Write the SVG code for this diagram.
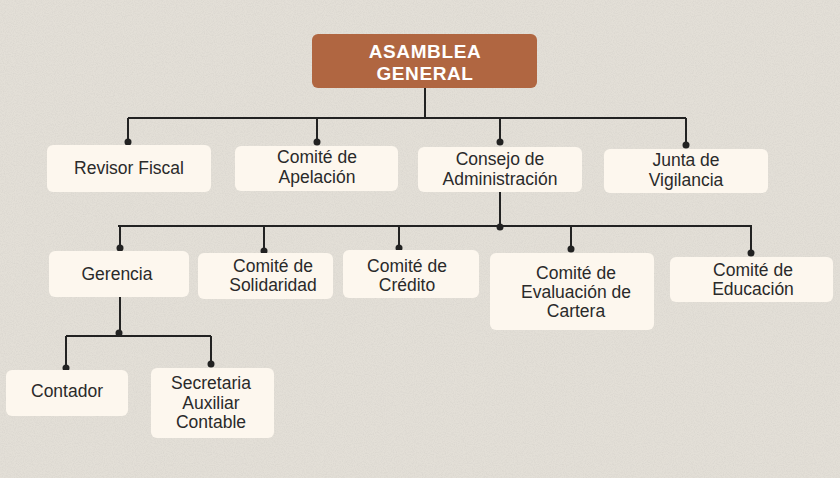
<svg xmlns="http://www.w3.org/2000/svg" width="840" height="478" viewBox="0 0 840 478">
<defs>
<filter id="grain" x="0" y="0" width="100%" height="100%">
<feTurbulence type="fractalNoise" baseFrequency="0.9" numOctaves="2" seed="3" result="n"/>
<feColorMatrix type="matrix" values="0 0 0 0 0.55  0 0 0 0 0.53  0 0 0 0 0.5  0 0 0 1.2 -0.45" in="n"/>
</filter>
</defs>
<style>
.box{fill:#fdf7ee;}
.t{font-family:"Liberation Sans",Arial,sans-serif;font-size:17.5px;fill:#2a2a2a;text-anchor:middle;}
.title{font-family:"Liberation Sans",Arial,sans-serif;font-size:19px;font-weight:bold;fill:#ffffff;text-anchor:middle;letter-spacing:0.6px;}
.ln{stroke:#222222;stroke-width:2;fill:none;}
.dot{fill:#222222;}
</style>
<rect width="840" height="478" fill="#e3dfd7"/>
<rect width="840" height="478" filter="url(#grain)" opacity="0.45"/>

<g id="connectors">
<path class="ln" d="M425 88 V118 M128 118 H686 M128 118 V142 M317 118 V142 M500 118 V142 M686 118 V145"/>
<path class="ln" d="M500 192 V226 M118 226 H752 M120 226 V248 M264 226 V251 M399 226 V248 M571 226 V249 M751 226 V253"/>
<path class="ln" d="M120 297 V336 M66 336 H211 M66 336 V368 M211 336 V364"/>
<circle class="dot" cx="128" cy="142" r="3.5"/>
<circle class="dot" cx="317" cy="142" r="3.5"/>
<circle class="dot" cx="500" cy="142" r="3.5"/>
<circle class="dot" cx="686" cy="145" r="3.5"/>
<circle class="dot" cx="500" cy="227" r="3.5"/>
<circle class="dot" cx="120" cy="248" r="3.5"/>
<circle class="dot" cx="264" cy="251" r="3.5"/>
<circle class="dot" cx="399" cy="248" r="3.5"/>
<circle class="dot" cx="571" cy="249" r="3.5"/>
<circle class="dot" cx="751" cy="253" r="3.5"/>
<circle class="dot" cx="119" cy="333" r="3.5"/>
<circle class="dot" cx="66" cy="368" r="3.5"/>
<circle class="dot" cx="211" cy="364" r="3.5"/>
</g>

<g id="asamblea">
<rect x="312" y="34" width="225" height="54" rx="6" fill="#b06641"/>
<text class="title" x="425" y="58">ASAMBLEA</text>
<text class="title" x="425" y="80">GENERAL</text>
</g>

<g id="revisor">
<rect class="box" x="47" y="145" width="164" height="47" rx="6"/>
<text class="t" x="129" y="174">Revisor Fiscal</text>
</g>

<g id="apelacion">
<rect class="box" x="235" y="146" width="163" height="45" rx="6"/>
<text class="t" x="317" y="163">Comité de</text>
<text class="t" x="317" y="183">Apelación</text>
</g>

<g id="consejo">
<rect class="box" x="418" y="147" width="164" height="45" rx="6"/>
<text class="t" x="500" y="165">Consejo de</text>
<text class="t" x="500" y="185">Administración</text>
</g>

<g id="junta">
<rect class="box" x="604" y="149" width="164" height="44" rx="6"/>
<text class="t" x="686" y="166">Junta de</text>
<text class="t" x="686" y="186">Vigilancia</text>
</g>

<g id="gerencia">
<rect class="box" x="49" y="251" width="140" height="46" rx="6"/>
<text class="t" x="117" y="280">Gerencia</text>
</g>

<g id="solidaridad">
<rect class="box" x="198" y="253" width="135" height="46" rx="6"/>
<text class="t" x="273" y="272">Comité de</text>
<text class="t" x="273" y="291">Solidaridad</text>
</g>

<g id="credito">
<rect class="box" x="343" y="250" width="136" height="48" rx="6"/>
<text class="t" x="407" y="272">Comité de</text>
<text class="t" x="407" y="291">Crédito</text>
</g>

<g id="evaluacion">
<rect class="box" x="490" y="253" width="164" height="77" rx="6"/>
<text class="t" x="576" y="279">Comité de</text>
<text class="t" x="576" y="298">Evaluación de</text>
<text class="t" x="576" y="317">Cartera</text>
</g>

<g id="educacion">
<rect class="box" x="670" y="257" width="163" height="45" rx="6"/>
<text class="t" x="753" y="276">Comité de</text>
<text class="t" x="753" y="295">Educación</text>
</g>

<g id="contador">
<rect class="box" x="6" y="370" width="122" height="46" rx="6"/>
<text class="t" x="67" y="397">Contador</text>
</g>

<g id="secretaria">
<rect class="box" x="151" y="368" width="123" height="70" rx="6"/>
<text class="t" x="211" y="389">Secretaria</text>
<text class="t" x="211" y="409">Auxiliar</text>
<text class="t" x="211" y="428">Contable</text>
</g>
</svg>
